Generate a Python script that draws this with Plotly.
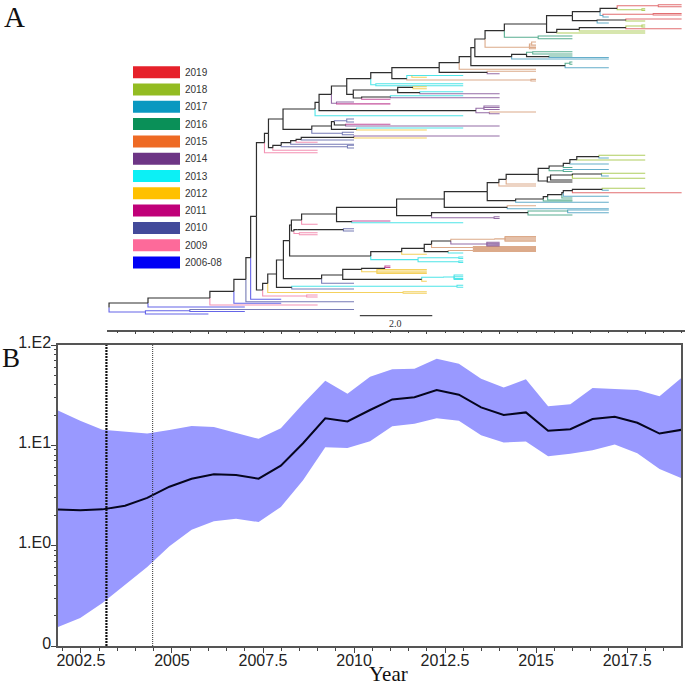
import plotly.graph_objects as go

W, H = 685, 688

# panel B: skyline values
years = [2001.87, 2002.48, 2003.09, 2003.71, 2004.32, 2004.93, 2005.54, 2006.15, 2006.76, 2007.38,
         2007.99, 2008.6, 2009.21, 2009.82, 2010.44, 2011.05, 2011.66, 2012.27, 2012.88, 2013.49,
         2014.11, 2014.72, 2015.33, 2015.94, 2016.55, 2017.16, 2017.78, 2018.39, 2019.0]
median = [2.29, 2.25, 2.30, 2.50, 2.99, 3.87, 4.65, 5.14, 5.06, 4.65,
          6.27, 10.5, 18.6, 17.3, 22.5, 28.7, 30.1, 35.6, 32.0, 23.9,
          20.1, 21.3, 14.0, 14.5, 18.3, 19.3, 16.8, 13.1, 14.3]
upper = [22.2, 17.6, 14.3, 13.7, 13.1, 14.2, 15.6, 15.2, 13.4, 11.6,
         14.8, 26.0, 44.1, 32.7, 48.3, 57.2, 58.1, 73.1, 65.1, 46.2,
         37.6, 45.5, 24.5, 25.6, 37.3, 36.7, 35.6, 30.8, 47.2]
lower = [0.155, 0.190, 0.268, 0.408, 0.613, 0.985, 1.44, 1.75, 1.86, 1.72,
         2.43, 4.48, 9.55, 9.40, 11.0, 15.5, 16.4, 18.6, 17.6, 12.6,
         10.7, 10.9, 7.77, 8.26, 8.92, 10.2, 8.32, 5.81, 4.69]
marker_thick = 2003.2
marker_thin = 2004.47
x_ticks = [2002.5, 2005, 2007.5, 2010, 2012.5, 2015, 2017.5]
x_ticktext = ["2002.5", "2005", "2007.5", "2010", "2012.5", "2015", "2017.5"]
y_ticks = [0.1, 1, 10, 100]
y_ticktext = ["0", "1.E0", "1.E1", "1.E2"]

# panel A: tree branches as (parent year, tip year, row, parent row)
internal = [
    (2003.27, 2004.34, 303, 307.5), (2004.34, 2006.04, 298, 303), (2006.04, 2006.70, 291.3, 298),
    (2006.70, 2007.03, 279.3, 291.3), (2007.03, 2007.16, 257.7, 279.3), (2007.16, 2007.32, 216.3, 257.7),
    (2007.32, 2007.54, 142.7, 216.3), (2007.32, 2007.49, 290, 216.3), (2007.54, 2007.65, 133.3, 142.7),
    (2007.65, 2008.05, 119, 133.3), (2007.65, 2007.77, 147.7, 133.3), (2007.77, 2008.0, 145.3, 147.7),
    (2008.0, 2008.26, 142.7, 145.3), (2008.26, 2008.41, 140.7, 142.7), (2008.41, 2008.55, 139.3, 140.7),
    (2008.55, 2010, 137.3, 139.3), (2008.05, 2008.93, 109, 119), (2008.05, 2008.84, 129.3, 119),
    (2008.84, 2009.38, 126, 129.3), (2009.38, 2009.46, 121.7, 126), (2009.38, 2010.07, 129.3, 126),
    (2009.46, 2009.77, 125, 121.7), (2008.93, 2009.04, 102.3, 109), (2009.04, 2009.38, 94.3, 102.3),
    (2009.04, 2013.35, 110.7, 102.3), (2009.38, 2009.8, 86, 94.3), (2009.8, 2010.46, 78.7, 86),
    (2009.8, 2009.98, 94.3, 86), (2010.46, 2011.04, 72.7, 78.7), (2009.98, 2011.2, 90, 94.3),
    (2009.98, 2010.21, 98, 94.3), (2011.04, 2011.45, 78.7, 72.7), (2011.2, 2011.62, 87.3, 90),
    (2011.2, 2011.81, 92.7, 90), (2010.21, 2011, 97, 98), (2011.04, 2012.34, 67.7, 72.7),
    (2012.34, 2012.89, 62.7, 67.7), (2012.34, 2013.66, 72.3, 67.7), (2012.89, 2013.21, 56.7, 62.7),
    (2013.21, 2013.32, 47.7, 56.7), (2013.21, 2015.8, 65.7, 56.7), (2013.32, 2013.6, 39, 47.7),
    (2013.32, 2014.33, 56.7, 47.7), (2014.33, 2014.74, 54.3, 56.7), (2014.74, 2015.36, 56.7, 54.3),
    (2013.6, 2014.13, 30.7, 39), (2014.13, 2015.29, 24, 30.7), (2015.29, 2016.0, 15.7, 24),
    (2015.29, 2015.57, 32.3, 24), (2016, 2016.76, 11.7, 15.7), (2016, 2016.68, 20.7, 15.7),
    (2016.76, 2017.23, 8.3, 11.7), (2016.68, 2017.47, 20, 20.7), (2015.57, 2016.19, 29.3, 32.3),
    (2016.19, 2017.47, 27.7, 29.3),
    (2007.49, 2007.63, 283.3, 290), (2007.63, 2007.87, 274, 283.3), (2007.87, 2008.29, 287.3, 274),
    (2007.87, 2008.06, 260, 274), (2008.06, 2008.23, 240.7, 260), (2008.06, 2009.11, 278.7, 260),
    (2009.11, 2009.69, 275, 278.7), (2009.69, 2010.21, 269.3, 275), (2009.69, 2011.86, 279.3, 275),
    (2010.21, 2010.85, 268.3, 269.3), (2008.23, 2008.28, 225, 240.7), (2008.23, 2010.46, 256, 240.7),
    (2010.46, 2011.31, 251.7, 256), (2011.31, 2011.93, 248.3, 251.7), (2011.93, 2012.13, 244.3, 248.3),
    (2011.93, 2012.59, 251.7, 248.3), (2012.13, 2012.66, 241, 244.3), (2008.28, 2008.56, 220, 225),
    (2008.28, 2008.35, 231, 225), (2008.56, 2009.52, 214, 220), (2009.52, 2009.94, 221.7, 214),
    (2009.52, 2011.17, 207.3, 214), (2011.17, 2012.48, 199, 207.3), (2011.17, 2012.13, 215.7, 207.3),
    (2012.13, 2014.78, 212.7, 215.7), (2012.48, 2013.66, 191.7, 199), (2012.48, 2014.21, 207.3, 199),
    (2013.66, 2013.98, 182.7, 191.7), (2013.66, 2014.44, 200.7, 191.7), (2013.98, 2014.18, 179.3, 182.7),
    (2014.18, 2015.06, 174.3, 179.3), (2015.06, 2015.36, 168.3, 174.3), (2015.06, 2015.31, 181, 174.3),
    (2015.36, 2015.75, 166, 168.3), (2015.75, 2015.93, 163.3, 166), (2015.93, 2016.12, 159.7, 163.3),
    (2016.12, 2016.73, 156.7, 159.7), (2015.31, 2015.4, 177, 181), (2015.31, 2016, 182, 181),
    (2015.4, 2016, 175, 177), (2015.4, 2016, 180, 177), (2016, 2016.8, 174, 175),
    (2014.44, 2015.2, 199, 200.7), (2015.2, 2015.32, 196.7, 199), (2015.32, 2015.71, 194.7, 196.7),
    (2015.71, 2015.75, 192.7, 194.7), (2015.75, 2016, 190.7, 192.7), (2016, 2016.82, 189.3, 190.7),
    (2008.35, 2008.44, 229.7, 231), (2008.44, 2009.71, 229.7, 229.7),
]
g2006_08 = [
    (2003.27, 2004.27, 312, 307.5), (2004.34, 2007.0, 307, 303), (2004.27, 2005.49, 310.7, 312),
    (2004.27, 2006.0, 314, 312), (2005.49, 2007.0, 311.5, 310.7), (2006.70, 2008.0, 303.3, 291.3),
    (2007.16, 2008.0, 299.3, 257.7),
]
g2009 = [
    (2006.04, 2009.0, 305, 298), (2007.54, 2009.0, 152.7, 142.7), (2007.77, 2009.0, 150.3, 147.7),
    (2008.41, 2009.0, 142.3, 140.7), (2007.49, 2008.7, 296, 290), (2008.7, 2009, 295, 296),
    (2008.7, 2009, 297, 296), (2008.56, 2009, 224.3, 220), (2008.35, 2008.5, 233.5, 231),
    (2008.5, 2009, 232.7, 233.5), (2008.5, 2009, 234.7, 233.5),
]
g2010 = [
    (2005.49, 2010.0, 309.5, 310.7), (2007.03, 2010.0, 301.7, 279.3), (2008.0, 2009.82, 146.7, 145.3),
    (2009.82, 2010, 145.3, 146.7), (2009.82, 2010, 148, 146.7), (2008.26, 2010, 144.3, 142.7),
    (2008.55, 2010, 140, 139.3), (2008.84, 2009.68, 133.3, 129.3), (2009.68, 2010, 132.3, 133.3),
    (2009.68, 2010, 134.7, 133.3), (2009.46, 2009.8, 120.7, 121.7), (2009.8, 2010, 119, 120.7),
    (2009.8, 2010, 122, 120.7), (2008.29, 2010, 289, 287.3), (2009.11, 2010, 283.3, 278.7),
    (2009.71, 2010, 228.7, 229.7), (2009.71, 2010, 231, 229.7),
]
g2011 = [
    (2009.77, 2011, 124.3, 125), (2009.52, 2011, 103.9, 103.3), (2010.21, 2011, 99.3, 98),
    (2010.85, 2011, 266, 268.3), (2010.85, 2011, 267.5, 268.3), (2009.94, 2011, 221, 221.7),
]
g2012 = [
    (2010, 2012, 138, 137.3), (2010.07, 2012, 130, 129.3), (2011.59, 2012, 77.3, 75.5),
    (2011.62, 2012, 86.8, 87.3), (2011.62, 2012, 88.8, 87.3), (2007.63, 2011.35, 292.5, 283.3),
    (2011.35, 2012, 291.7, 292.5), (2011.35, 2012, 293.3, 292.5), (2011.86, 2012, 281.3, 279.3),
    (2010.21, 2010.63, 271.7, 269.3), (2010.63, 2012, 269.5, 271.7), (2010.63, 2012, 271, 271.7),
    (2010.63, 2012, 272.3, 271.7), (2010.63, 2012, 273.5, 271.7), (2011.31, 2012, 254.3, 251.7),
]
g2013 = [
    (2010.07, 2013, 128, 129.3), (2008.93, 2013, 115.7, 109), (2010.46, 2010.6, 84.7, 78.7),
    (2010.6, 2013, 83.8, 84.7), (2010.6, 2013, 85.7, 84.7), (2011.45, 2013, 75.5, 78.7),
    (2011.81, 2013, 91.7, 92.7), (2011, 2013, 95.7, 97), (2008.29, 2012.83, 286.3, 287.3),
    (2012.83, 2013, 285.3, 286.3), (2012.83, 2013, 287.3, 286.3), (2011.86, 2012.47, 277.3, 279.3),
    (2012.47, 2012.75, 277, 277.3), (2012.75, 2013, 275, 277), (2012.75, 2013, 276.7, 277),
    (2012.75, 2013, 278.5, 277), (2012.75, 2013, 279.5, 277), (2010.46, 2011.76, 259.6, 256),
    (2011.76, 2012.88, 257.7, 259.6), (2011.76, 2012.88, 261.7, 259.6), (2012.88, 2013, 257, 257.7),
    (2012.88, 2013, 258.5, 257.7), (2012.88, 2013, 261, 261.7), (2012.88, 2013, 262.5, 261.7),
    (2012.59, 2013, 253, 251.7), (2009.94, 2013, 222.7, 221.7),
]
g2014 = [
    (2010, 2014, 136, 137.3), (2009.77, 2014, 126, 125), (2009.38, 2009.52, 103.3, 94.3),
    (2009.52, 2010, 102, 103.3), (2011.81, 2014, 93.7, 92.7), (2011, 2014, 97.7, 97),
    (2013.35, 2013.57, 108.3, 110.7), (2013.35, 2013.72, 112.7, 110.7), (2013.57, 2014, 106, 108.3),
    (2013.57, 2014, 107.5, 108.3), (2013.57, 2014, 109.5, 108.3), (2013.72, 2014, 113.7, 112.7),
    (2013.66, 2014, 73.7, 72.3), (2012.66, 2013.65, 244, 241), (2013.65, 2014, 242.3, 244),
    (2013.65, 2014, 243.2, 244), (2013.65, 2014, 244.1, 244), (2013.65, 2014, 245, 244),
    (2013.65, 2014, 245.9, 244), (2012.13, 2013.85, 217.7, 215.7), (2013.85, 2014, 216.7, 217.7),
    (2013.85, 2014, 218.5, 217.7),
]
g2015 = [
    (2011.45, 2014.86, 80, 78.7), (2014.86, 2015, 79.4, 80), (2014.86, 2015, 81, 80),
    (2013.72, 2015, 112, 112.7), (2013.66, 2015, 71.3, 72.3), (2012.89, 2015, 69.3, 62.7),
    (2013.6, 2014.82, 47.3, 39), (2014.82, 2015, 46, 47.3), (2014.82, 2015, 47.5, 47.3),
    (2014.82, 2015, 48.8, 47.3), (2014.82, 2014.88, 44, 47.3), (2014.88, 2015, 42, 44), (2014.88, 2015, 45, 44),
    (2012.66, 2013.87, 239.3, 241), (2013.87, 2014.15, 238.9, 239.3), (2014.15, 2015, 236.5, 238.9),
    (2014.15, 2015, 237.7, 238.9), (2014.15, 2015, 238.9, 238.9), (2014.15, 2015, 240.1, 238.9),
    (2014.15, 2015, 241.3, 238.9), (2012.13, 2013.28, 247.5, 244.3), (2013.28, 2015, 246.5, 247.5),
    (2013.28, 2015, 247.5, 247.5), (2013.28, 2015, 248.5, 247.5), (2012.59, 2013.28, 250.5, 251.7),
    (2013.28, 2015, 249.5, 250.5), (2013.28, 2015, 250.5, 250.5), (2013.28, 2015, 251.5, 250.5),
    (2014.21, 2015, 205.7, 207.3), (2013.98, 2015, 186, 182.7), (2014.18, 2015, 184, 179.3),
]
g2016 = [
    (2015.8, 2015.93, 63.3, 65.7), (2015.93, 2016, 62, 63.3), (2015.93, 2016, 64.3, 63.3),
    (2014.74, 2014.91, 52.3, 54.3), (2014.91, 2016, 51.7, 52.3), (2014.91, 2016, 54, 52.3),
    (2015.36, 2016, 56, 56.7), (2014.13, 2015.06, 37.3, 30.7), (2015.06, 2016, 36, 37.3),
    (2015.06, 2016, 38.7, 37.3), (2014.78, 2016, 215, 212.7), (2014.78, 2015.87, 211, 212.7),
    (2015.36, 2015.75, 170.7, 168.3), (2015.75, 2016, 171.5, 170.7), (2015.75, 2016, 167.5, 166),
    (2015.2, 2016, 201, 199), (2015.32, 2016, 200, 196.7), (2015.71, 2016, 198, 194.7),
]
g2017 = [
    (2015.8, 2017, 67.7, 65.7), (2014.33, 2017, 59, 56.7), (2015.36, 2017, 57.5, 56.7),
    (2016.76, 2016.84, 15.5, 11.7), (2016.84, 2017, 17, 15.5), (2016.68, 2017, 23, 20.7),
    (2015.87, 2017, 210, 211), (2015.87, 2017, 212.7, 211), (2014.21, 2017, 208.8, 207.3),
    (2015.75, 2017, 169.5, 170.7), (2015.93, 2017, 164, 163.3), (2016.73, 2017, 158, 156.7),
    (2016.8, 2017, 176, 174), (2014.44, 2017, 202.3, 200.7), (2015.75, 2017, 196.3, 192.7),
    (2016.82, 2017, 190.3, 189.3),
]
g2018 = [
    (2017.23, 2017.91, 9.7, 8.3), (2017.91, 2018, 8.9, 9.7), (2017.91, 2018, 10.5, 9.7),
    (2017.47, 2018, 21, 20), (2015.57, 2018, 33, 32.3), (2016.19, 2018, 31, 29.3),
    (2017.47, 2017.91, 26, 27.7), (2017.91, 2018, 25, 26), (2017.91, 2018, 27, 26),
    (2016.12, 2018, 160, 159.7), (2016.73, 2018, 155.3, 156.7), (2016, 2018, 178.3, 175),
    (2016.8, 2018, 173.3, 174), (2016.82, 2018, 188.3, 189.3),
]
g2019 = [
    (2016.84, 2018.22, 14.3, 15.5), (2018.22, 2019, 13.5, 14.3), (2018.22, 2019, 15, 14.3),
    (2017.23, 2018.36, 5.7, 8.3), (2018.36, 2019, 4.8, 5.7), (2018.36, 2019, 6.8, 5.7),
    (2017.47, 2019, 19, 20), (2017.47, 2019, 28.8, 27.7), (2016, 2019, 192.7, 190.7),
]

legend_labels = ["2019", "2018", "2017", "2016", "2015", "2014", "2013", "2012", "2011", "2010", "2009", "2006-08"]
legend_colors = ["#e6212a", "#93bc22", "#0a98c0", "#0a9058", "#ee6a24", "#6d3585",
                 "#0cf0f5", "#ffc000", "#c00078", "#434a9a", "#fd6a9a", "#0000f5"]
# the branches look duller than the legend keys, the 2015 ones most of all
tree_colors = ["#d8383c", "#93bc22", "#2a8fb8", "#1a9068", "#cf8a5e", "#6d3585",
               "#0cdce0", "#f0c020", "#b01078", "#434a9a", "#f06a98", "#2a2ae0"]
legend_branches = [g2019, g2018, g2017, g2016, g2015, g2014, g2013, g2012, g2011, g2010, g2009, g2006_08]

scale_bar_years = [2010.16, 2012.15]
scale_bar_row = 315.7


def branch_path(branches):
    # step from the parent node down its connector, then along to the tip
    xs, ys = [], []
    for start, end, row, parent_row in branches:
        xs += [start, start, end, None]
        ys += [parent_row, row, row, None]
    return xs, ys


fig = go.Figure()

for branches, color in zip(legend_branches, tree_colors):
    xs, ys = branch_path(branches)
    fig.add_trace(go.Scatter(x=xs, y=ys, mode="lines", xaxis="x2", yaxis="y2", opacity=0.72,
                             line=dict(color=color, width=1.1), showlegend=False))
xs, ys = branch_path(internal)
fig.add_trace(go.Scatter(x=xs, y=ys, mode="lines", xaxis="x2", yaxis="y2",
                         line=dict(color="#2e2e2e", width=1.2), showlegend=False))
fig.add_trace(go.Scatter(x=scale_bar_years, y=[scale_bar_row, scale_bar_row], mode="lines", xaxis="x2", yaxis="y2",
                         line=dict(color="#444444", width=1.3), showlegend=False))

# skyline band and median
fig.add_trace(go.Scatter(x=years, y=lower, mode="lines", line=dict(width=0, color="#9999ff"), showlegend=False))
fig.add_trace(go.Scatter(x=years, y=upper, mode="lines", line=dict(width=0, color="#9999ff"),
                         fill="tonexty", fillcolor="#9999ff", showlegend=False))
fig.add_trace(go.Scatter(x=years, y=median, mode="lines", line=dict(color="#05051e", width=2), showlegend=False))
fig.add_trace(go.Scatter(x=[marker_thick, marker_thick], y=[0.1, 100], mode="lines",
                         line=dict(color="#111111", width=2.2, dash="2px,1px"), showlegend=False))
fig.add_trace(go.Scatter(x=[marker_thin, marker_thin], y=[0.1, 100], mode="lines",
                         line=dict(color="#333333", width=1, dash="1px,1px"), showlegend=False))

shapes, annotations = [], []
for i, (label, color) in enumerate(zip(legend_labels, legend_colors)):
    mid = 72.2 + i * 17.3
    shapes.append(dict(type="rect", xref="paper", yref="paper", x0=133 / W, x1=180 / W,
                       y0=1 - (mid + 6) / H, y1=1 - (mid - 6) / H, fillcolor=color,
                       line=dict(width=0)))
    annotations.append(dict(text=label, xref="paper", yref="paper", x=183 / W, y=1 - mid / H, xanchor="left",
                            yanchor="middle", showarrow=False, font=dict(family="Liberation Sans", size=10, color="#333333")))

annotations += [
    dict(text="A", xref="paper", yref="paper", x=2 / W, y=1 - 17 / H, xanchor="left", yanchor="middle",
         showarrow=False, font=dict(family="Liberation Serif", size=29, color="#111111")),
    dict(text="B", xref="paper", yref="paper", x=0, y=1 - 358 / H, xanchor="left", yanchor="middle",
         showarrow=False, font=dict(family="Liberation Serif", size=27, color="#111111")),
    dict(text="2.0", xref="x2", yref="y2", x=2011.15, y=323, xanchor="center", yanchor="middle",
         showarrow=False, font=dict(family="Liberation Serif", size=10, color="#333333")),
    dict(text="Year", xref="paper", yref="paper", x=388 / W, y=0, xanchor="center", yanchor="bottom",
         showarrow=False, font=dict(family="Liberation Serif", size=21, color="#111111")),
]

decade_minor = [m * d for d in (0.1, 1, 10) for m in range(2, 10)]

fig.update_layout(
    width=W, height=H, margin=dict(l=0, r=0, t=0, b=0, autoexpand=False), autosize=False,
    paper_bgcolor="white", plot_bgcolor="white", showlegend=False,
    shapes=shapes, annotations=annotations,
    xaxis=dict(domain=[58 / W, 681 / W], range=[2001.87, 2018.98], anchor="y", showgrid=False, zeroline=False,
               tickvals=x_ticks, ticktext=x_ticktext, ticks="outside", ticklen=5, tickcolor="#444444", tickwidth=1,
               ticklabelstandoff=-6,
               minor=dict(ticks="outside", ticklen=3, dtick=0.5, tick0=2002.5, tickcolor="#444444", showgrid=False),
               showline=True, mirror=True, linecolor="#555555", linewidth=1.5,
               tickfont=dict(family="Liberation Sans", size=16, color="#222222")),
    yaxis=dict(domain=[1 - 646 / H, 1 - 345 / H], type="log", range=[-1, 2], anchor="x", showgrid=False, zeroline=False,
               tickvals=y_ticks, ticktext=y_ticktext, ticks="outside", ticklen=5, tickcolor="#444444", tickwidth=1,
               ticklabelstandoff=-3, ticklabelshift=-3,
               minor=dict(ticks="outside", ticklen=2, tickvals=decade_minor, tickcolor="#444444", showgrid=False),
               showline=True, mirror=True, linecolor="#555555", linewidth=1.5,
               tickfont=dict(family="Liberation Sans", size=16, color="#222222")),
    xaxis2=dict(domain=[107 / W, 1], range=[2003.214, 2019.093], anchor="y2", showgrid=False, zeroline=False,
                showticklabels=False, ticks="outside", ticklen=3, tick0=2004, dtick=2, tickcolor="#444444",
                minor=dict(ticks="outside", ticklen=2, dtick=0.5, tick0=2004, tickcolor="#444444", showgrid=False),
                showline=True, linecolor="#555555", linewidth=1.5),
    yaxis2=dict(domain=[1 - 329.5 / H, 1], range=[329.5, 0], anchor="x2", visible=False),
)

fig.write_html("out.html", config=dict(displayModeBar=False),
               post_script="document.body.style.margin='0';document.body.style.overflow='hidden';")
